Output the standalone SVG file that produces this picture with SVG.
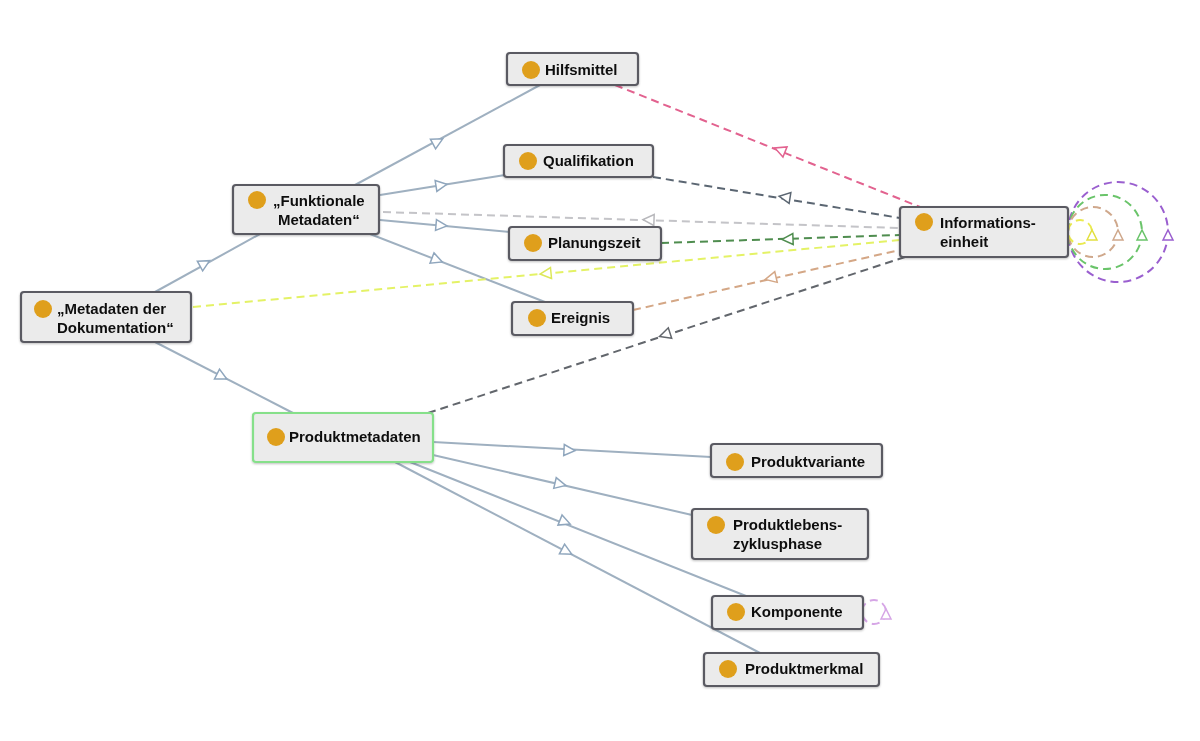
<svg xmlns="http://www.w3.org/2000/svg" width="1200" height="741" viewBox="0 0 1200 741">
<defs>
<style>
.node rect{fill:#ebebeb;stroke:#5a5a62;stroke-width:2.2}
.node.sel rect{stroke:#86e08a}
.dot{fill:#df9f1c}
text{font-family:"Liberation Sans",Arial,sans-serif;font-weight:bold;font-size:15px;fill:#111}
.sub{stroke:#9fb0c0;stroke-width:2;fill:none}
.d{stroke-width:2;fill:none;stroke-dasharray:8,5}
.tri{fill:#fff;stroke-width:1.5}
</style>
<filter id="sh" x="-10%" y="-10%" width="120%" height="130%"><feDropShadow dx="0" dy="1" stdDeviation="1" flood-color="#000" flood-opacity="0.25"/></filter>
</defs>
<rect width="1200" height="741" fill="#fff"/>
<g id="connectors">
<line class="sub" x1="155" y1="292" x2="260" y2="234"/>
<line class="sub" x1="155" y1="342" x2="293" y2="413"/>
<line class="sub" x1="355" y1="185" x2="540" y2="85"/>
<line class="sub" x1="380" y1="195" x2="505" y2="175"/>
<line class="sub" x1="380" y1="220" x2="510" y2="232"/>
<line class="sub" x1="370" y1="234" x2="545" y2="302"/>
<line class="sub" x1="433" y1="442" x2="711" y2="457"/>
<line class="sub" x1="433" y1="455" x2="692" y2="515"/>
<line class="sub" x1="410" y1="462" x2="746" y2="596"/>
<line class="sub" x1="395" y1="462" x2="760" y2="653"/>
<g class="tri" stroke="#8fa6bd">
<polygon points="0,-5.5 11,0 0,5.5" transform="translate(200,266) rotate(-29)"/>
<polygon points="0,-5.5 11,0 0,5.5" transform="translate(217,374) rotate(27)"/>
<polygon points="0,-5.5 11,0 0,5.5" transform="translate(433,144) rotate(-28)"/>
<polygon points="0,-5.5 11,0 0,5.5" transform="translate(436,186) rotate(-9)"/>
<polygon points="0,-5.5 11,0 0,5.5" transform="translate(436,225) rotate(5)"/>
<polygon points="0,-5.5 11,0 0,5.5" transform="translate(432,258) rotate(21)"/>
<polygon points="0,-5.5 11,0 0,5.5" transform="translate(564,450) rotate(3)"/>
<polygon points="0,-5.5 11,0 0,5.5" transform="translate(555,483) rotate(13)"/>
<polygon points="0,-5.5 11,0 0,5.5" transform="translate(560,520) rotate(22)"/>
<polygon points="0,-5.5 11,0 0,5.5" transform="translate(562,549) rotate(28)"/>
</g>
<line class="d" stroke="#e2628f" x1="615" y1="85" x2="920" y2="207"/>
<line class="d" stroke="#5b6672" x1="653" y1="177" x2="900" y2="218"/>
<line class="d" stroke="#c4c4c8" x1="383" y1="212" x2="900" y2="228"/>
<line class="d" stroke="#4f8d4f" x1="661" y1="243" x2="900" y2="235"/>
<line class="d" stroke="#e4f266" x1="193" y1="307" x2="900" y2="240"/>
<line class="d" stroke="#d4a786" x1="633" y1="310" x2="900" y2="250"/>
<line class="d" stroke="#62666c" x1="428" y1="413" x2="905" y2="257"/>
<polygon class="tri" stroke="#e2628f" points="0,-5.5 11,0 0,5.5" transform="translate(785,152) rotate(202)"/>
<polygon class="tri" stroke="#5b6672" points="0,-5.5 11,0 0,5.5" transform="translate(790,198) rotate(189)"/>
<polygon class="tri" stroke="#b8b8bc" points="0,-5.5 11,0 0,5.5" transform="translate(654,220) rotate(182)"/>
<polygon class="tri" stroke="#4f8d4f" points="0,-5.5 11,0 0,5.5" transform="translate(793,239) rotate(178)"/>
<polygon class="tri" stroke="#dce85a" points="0,-5.5 11,0 0,5.5" transform="translate(551,273) rotate(174.5)"/>
<polygon class="tri" stroke="#d4a786" points="0,-5.5 11,0 0,5.5" transform="translate(776,277) rotate(167)"/>
<polygon class="tri" stroke="#62666c" points="0,-5.5 11,0 0,5.5" transform="translate(670,333) rotate(162)"/>
<circle class="d" stroke="#9a5fcf" cx="1118" cy="232" r="50"/>
<circle class="d" stroke="#6ac46a" cx="1105" cy="232" r="37"/>
<circle class="d" stroke="#cfa88c" cx="1093" cy="232" r="25"/>
<circle class="d" stroke="#eaea50" stroke-dasharray="6,4" cx="1080" cy="232" r="12"/>
<polygon class="tri" stroke="#9a5fcf" points="0,-5 10,0 0,5" transform="translate(1168,240) rotate(-90)"/>
<polygon class="tri" stroke="#6ac46a" points="0,-5 10,0 0,5" transform="translate(1142,240) rotate(-90)"/>
<polygon class="tri" stroke="#cfa88c" points="0,-5 10,0 0,5" transform="translate(1118,240) rotate(-90)"/>
<polygon class="tri" stroke="#e2e040" points="0,-5 10,0 0,5" transform="translate(1092,240) rotate(-90)"/>
<circle class="d" stroke="#d6a6e6" stroke-dasharray="6,4" cx="874" cy="612" r="12"/>
<polygon class="tri" stroke="#d6a6e6" points="0,-5 10,0 0,5" transform="translate(886,619) rotate(-90)"/>
</g>
<g id="n-hilfsmittel" class="node" filter="url(#sh)"><rect x="507" y="53" width="131" height="32" rx="3"/><circle class="dot" cx="531" cy="70" r="9"/><text x="545" y="75">Hilfsmittel</text></g>
<g id="n-qualifikation" class="node" filter="url(#sh)"><rect x="504" y="145" width="149" height="32" rx="3"/><circle class="dot" cx="528" cy="161" r="9"/><text x="543" y="166">Qualifikation</text></g>
<g id="n-funktionale" class="node" filter="url(#sh)"><rect x="233" y="185" width="146" height="49" rx="3"/><circle class="dot" cx="257" cy="200" r="9"/><text x="273" y="206">„Funktionale</text><text x="278" y="225">Metadaten“</text></g>
<g id="n-metadaten" class="node" filter="url(#sh)"><rect x="21" y="292" width="170" height="50" rx="3"/><circle class="dot" cx="43" cy="309" r="9"/><text x="57" y="314">„Metadaten der</text><text x="57" y="333">Dokumentation“</text></g>
<g id="n-planungszeit" class="node" filter="url(#sh)"><rect x="509" y="227" width="152" height="33" rx="3"/><circle class="dot" cx="533" cy="243" r="9"/><text x="548" y="248">Planungszeit</text></g>
<g id="n-ereignis" class="node" filter="url(#sh)"><rect x="512" y="302" width="121" height="33" rx="3"/><circle class="dot" cx="537" cy="318" r="9"/><text x="551" y="323">Ereignis</text></g>
<g id="n-informationseinheit" class="node" filter="url(#sh)"><rect x="900" y="207" width="168" height="50" rx="3"/><circle class="dot" cx="924" cy="222" r="9"/><text x="940" y="228">Informations-</text><text x="940" y="247">einheit</text></g>
<g id="n-produktmetadaten" class="node sel" filter="url(#sh)"><rect x="253" y="413" width="180" height="49" rx="3"/><circle class="dot" cx="276" cy="437" r="9"/><text x="289" y="442">Produktmetadaten</text></g>
<g id="n-produktvariante" class="node" filter="url(#sh)"><rect x="711" y="444" width="171" height="33" rx="3"/><circle class="dot" cx="735" cy="462" r="9"/><text x="751" y="467">Produktvariante</text></g>
<g id="n-produktlebenszyklusphase" class="node" filter="url(#sh)"><rect x="692" y="509" width="176" height="50" rx="3"/><circle class="dot" cx="716" cy="525" r="9"/><text x="733" y="530">Produktlebens-</text><text x="733" y="549">zyklusphase</text></g>
<g id="n-komponente" class="node" filter="url(#sh)"><rect x="712" y="596" width="151" height="33" rx="3"/><circle class="dot" cx="736" cy="612" r="9"/><text x="751" y="617">Komponente</text></g>
<g id="n-produktmerkmal" class="node" filter="url(#sh)"><rect x="704" y="653" width="175" height="33" rx="3"/><circle class="dot" cx="728" cy="669" r="9"/><text x="745" y="674">Produktmerkmal</text></g>
</svg>
